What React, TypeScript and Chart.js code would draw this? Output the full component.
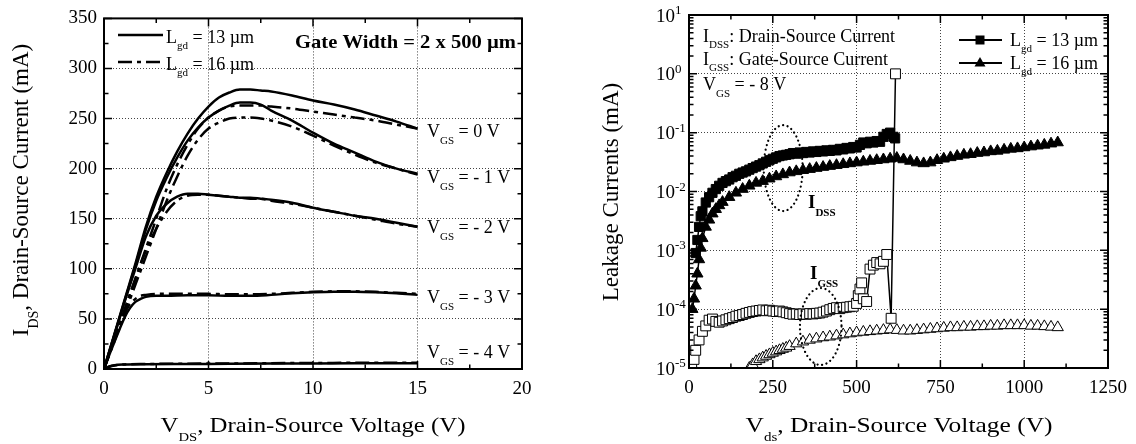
import { useEffect, useRef } from 'react';
import { Chart, registerables } from 'chart.js';

Chart.register(...registerables);

const SERIF = '"Liberation Serif", "Times New Roman", Times, serif';

// ---------------- Left panel: output characteristics ----------------
const vdsA = [0, 0.5, 1, 1.5, 2, 2.5, 3, 3.5, 4, 4.5, 5, 5.5, 6, 6.5, 7, 7.5, 8, 9, 10, 11, 12, 13, 14, 15];
const idsVg0L13 = [0, 35, 70, 105, 142, 172, 196, 217, 235, 250, 262, 271, 276, 279, 279, 278, 277, 273, 268, 264, 259, 253, 247, 240];
const idsVg0L16 = [0, 30, 60, 90, 120, 150, 180, 204, 224, 240, 251, 258, 262, 263, 263, 263, 262, 260, 257, 254, 251, 248, 244, 240];
const idsVg1L13 = [0, 34, 69, 103, 139, 168, 191, 211, 228, 241, 251, 258, 263, 266, 266, 264, 258, 248, 236, 225, 216, 207, 200, 195];
const idsVg1L16 = [0, 28, 56, 84, 112, 140, 168, 192, 213, 229, 240, 246, 250, 251, 251, 250, 248, 242, 233, 223, 214, 206, 200, 194];
const idsVg2L13 = [0, 34, 68, 100, 132, 153, 165, 172, 175, 175, 174, 173, 172, 171, 171, 170, 169, 166, 161, 157, 153, 150, 146, 142];
const idsVg2L16 = [0, 30, 60, 90, 118, 140, 157, 168, 173, 174, 174, 173, 172, 171, 170, 170, 168, 165, 161, 157, 153, 149, 145, 142];

const vdsB = [0, 0.25, 0.5, 0.75, 1, 1.25, 1.5, 1.75, 2, 2.5, 3, 4, 5, 6, 7, 8, 9, 10, 11, 12, 13, 14, 15];
const idsVg3L13 = [0, 14, 27, 40, 52, 61, 67, 70, 72, 73, 73, 73.5, 73.5, 73, 73, 74, 75.5, 76.5, 77, 77, 76.5, 75.5, 74];
const idsVg3L16 = [0, 15, 29, 43, 56, 65, 70, 73, 74, 75, 75, 75, 75, 74.5, 74.5, 75, 76, 77, 77.5, 77.5, 77, 76, 75];

const vdsC = [0, 0.25, 0.5, 1, 2, 4, 6, 8, 10, 12, 15];
const idsVg4L13 = [0, 2.5, 3.8, 4.5, 4.8, 5, 5.2, 5.4, 5.6, 5.7, 5.8];
const idsVg4L16 = [0, 2.3, 3.6, 4.6, 5, 5.3, 5.5, 5.8, 6, 6.2, 6.3];

const vgsLabels = ['0 V', '- 1 V', '- 2 V', '- 3 V', '- 4 V'];

// ---------------- Right panel: off-state leakage ----------------
const vIdss13 = [20, 25, 30, 35, 40, 50, 60, 70, 80, 90, 100, 110, 120, 130, 140, 150, 160, 170, 180, 190, 200,
  210, 220, 230, 240, 250, 260, 270, 280, 290, 300, 310, 320, 330, 340, 350, 360, 370, 380, 390, 400,
  410, 420, 430, 440, 450, 460, 470, 480, 490, 500, 510, 520, 530, 540, 550, 560, 570, 580, 590, 600, 610, 615];
const iIdss13 = [9e-4, 1.5e-3, 2.5e-3, 3.8e-3, 4.6e-3, 6.5e-3, 8e-3, 9.5e-3, 1.1e-2, 1.25e-2, 1.4e-2, 1.5e-2, 1.6e-2, 1.75e-2, 1.85e-2, 2e-2, 2.1e-2, 2.2e-2, 2.35e-2, 2.5e-2, 2.65e-2,
  2.8e-2, 3e-2, 3.2e-2, 3.4e-2, 3.6e-2, 3.8e-2, 4e-2, 4.1e-2, 4.2e-2, 4.3e-2, 4.5e-2, 4.4e-2, 4.6e-2, 4.5e-2, 4.7e-2, 4.6e-2, 4.8e-2, 4.7e-2, 4.9e-2, 4.8e-2,
  5e-2, 4.9e-2, 5.1e-2, 5e-2, 5.3e-2, 5.2e-2, 5.5e-2, 5.4e-2, 5.7e-2, 5.6e-2, 6.2e-2, 6.8e-2, 6.6e-2, 7e-2, 6.8e-2, 7.2e-2, 7e-2, 8.5e-2, 9.5e-2, 1e-1, 8.5e-2, 8e-2];

const vIdss16 = [10, 15, 20, 25, 30, 35, 40, 50, 60, 70, 80, 90, 100, 120, 140, 160, 180, 200, 220, 240, 260, 280, 300,
  320, 340, 360, 380, 400, 420, 440, 460, 480, 500, 520, 540, 560, 580, 600, 620, 640, 660, 680, 700,
  720, 740, 760, 780, 800, 820, 840, 860, 880, 900, 920, 940, 960, 980, 1000, 1020, 1040, 1060, 1080, 1100];
const iIdss16 = [1e-4, 1.5e-4, 2.5e-4, 4e-4, 7e-4, 1.1e-3, 1.6e-3, 2.5e-3, 3.3e-3, 4.2e-3, 5e-3, 5.8e-3, 6.6e-3, 8e-3, 9.5e-3, 1.1e-2, 1.25e-2, 1.4e-2, 1.5e-2, 1.65e-2, 1.8e-2, 1.95e-2, 2.1e-2,
  2.2e-2, 2.3e-2, 2.4e-2, 2.5e-2, 2.6e-2, 2.7e-2, 2.8e-2, 2.9e-2, 3e-2, 3.1e-2, 3.2e-2, 3.3e-2, 3.4e-2, 3.5e-2, 3.6e-2, 3.7e-2, 3.5e-2, 3.3e-2, 3.1e-2, 3e-2,
  3.1e-2, 3.4e-2, 3.6e-2, 3.8e-2, 4e-2, 4.2e-2, 4.3e-2, 4.5e-2, 4.6e-2, 4.8e-2, 4.9e-2, 5.1e-2, 5.3e-2, 5.4e-2, 5.6e-2, 5.8e-2, 6e-2, 6.2e-2, 6.5e-2, 6.8e-2];

const vIgss13 = [8, 15, 20, 30, 40, 50, 60, 70, 80, 90, 100, 110, 120, 130, 140, 150, 160, 170, 180, 190, 200,
  210, 220, 230, 240, 250, 260, 270, 280, 290, 300, 310, 320, 330, 340, 350, 360, 370, 380, 390, 400,
  410, 420, 430, 440, 450, 460, 470, 480, 490, 500, 505, 510, 515, 520, 530, 540, 550, 560, 570, 580, 590, 603, 616];
const iIgss13 = [1.05e-5, 1.4e-5, 2e-5, 3e-5, 4.2e-5, 5.2e-5, 6.5e-5, 6.8e-5, 6.2e-5, 6e-5, 6.3e-5, 6.6e-5, 6.9e-5, 7.2e-5, 7.6e-5, 7.8e-5, 8.1e-5, 8.5e-5, 8.8e-5, 9.1e-5, 9.3e-5,
  9.5e-5, 9.7e-5, 9.4e-5, 9.6e-5, 9.3e-5, 9.1e-5, 9.3e-5, 9e-5, 8.7e-5, 8.4e-5, 8.2e-5, 8.3e-5, 8.1e-5, 8.3e-5, 8.2e-5, 8.4e-5, 8.3e-5, 8.5e-5, 8.6e-5, 8.9e-5,
  9.3e-5, 9.8e-5, 1.03e-4, 1.06e-4, 1.02e-4, 1.06e-4, 1.08e-4, 1.1e-4, 1.12e-4, 1.25e-4, 1.7e-4, 2.2e-4, 2.8e-4, 1.5e-4, 1.35e-4, 4.8e-4, 5.6e-4, 6.2e-4, 5.9e-4, 6.5e-4, 8.5e-4, 7e-5, 1];

const vIgss16 = [180, 190, 200, 210, 220, 230, 240, 250, 260, 270, 280, 290, 300,
  320, 340, 360, 380, 400, 420, 440, 460, 480, 500, 520, 540, 560, 580, 600, 620, 640, 660, 680, 700,
  720, 740, 760, 780, 800, 820, 840, 860, 880, 900, 920, 940, 960, 980, 1000, 1020, 1040, 1060, 1080, 1100];
const iIgss16 = [1e-5, 1.15e-5, 1.3e-5, 1.4e-5, 1.5e-5, 1.6e-5, 1.7e-5, 1.8e-5, 1.9e-5, 2e-5, 2.1e-5, 2.2e-5, 2.35e-5,
  2.6e-5, 2.8e-5, 3e-5, 3.15e-5, 3.3e-5, 3.4e-5, 3.55e-5, 3.7e-5, 3.85e-5, 4e-5, 4.1e-5, 4.2e-5, 4.3e-5, 4.4e-5, 4.5e-5, 4.4e-5, 4.3e-5, 4.3e-5, 4.4e-5, 4.5e-5,
  4.6e-5, 4.7e-5, 4.8e-5, 4.9e-5, 4.9e-5, 5e-5, 5e-5, 5.1e-5, 5.1e-5, 5.2e-5, 5.2e-5, 5.3e-5, 5.3e-5, 5.3e-5, 5.3e-5, 5.2e-5, 5.2e-5, 5.1e-5, 5e-5, 4.9e-5];

const logTicks = [1e-5, 1e-4, 1e-3, 1e-2, 1e-1, 1, 10];
const logTickExp = ['-5', '-4', '-3', '-2', '-1', '0', '1'];

// ---------------- helpers ----------------
type Part = { t: string; sub?: boolean; sup?: boolean };

function drawRich(ctx: CanvasRenderingContext2D, parts: Part[], x: number, y: number, size: number, o: any = {}) {
  const bold = o.bold ? 'bold ' : '';
  const subScale = o.subScale ?? 0.6;
  const fontFor = (p: Part) => `${bold}${p.sub || p.sup ? Math.round(size * subScale) : size}px ${SERIF}`;
  const ws = parts.map((p) => { ctx.font = fontFor(p); return ctx.measureText(p.t).width; });
  const total = ws.reduce((s, w) => s + w, 0);
  const sx = o.width ? o.width / total : (o.sx ?? 1);
  ctx.save();
  ctx.translate(x, y);
  if (o.rotate) ctx.rotate(-Math.PI / 2);
  ctx.scale(sx, 1);
  let cx = o.align === 'center' ? -total / 2 : o.align === 'right' ? -total : 0;
  ctx.fillStyle = '#000';
  ctx.textAlign = 'left';
  ctx.textBaseline = 'alphabetic';
  parts.forEach((p, i) => {
    ctx.font = fontFor(p);
    const dy = p.sub ? size * (o.subOff ?? 0.35) : p.sup ? -size * 0.45 : 0;
    ctx.fillText(p.t, cx, dy);
    cx += ws[i];
  });
  ctx.restore();
}

function drawFrame(chart: any, xMinor: number[], yMinor: number[]) {
  const { ctx, chartArea: a } = chart;
  const xs = chart.scales.x;
  const ys = chart.scales.y;
  const MAJ = 8;
  const MIN = 4.5;
  ctx.save();
  ctx.setLineDash([]);
  ctx.strokeStyle = '#000';
  ctx.lineWidth = 1.5;
  ctx.beginPath();
  const vt = (p: number, len: number) => {
    ctx.moveTo(p, a.bottom); ctx.lineTo(p, a.bottom - len);
    ctx.moveTo(p, a.top); ctx.lineTo(p, a.top + len);
  };
  const ht = (p: number, len: number) => {
    ctx.moveTo(a.left, p); ctx.lineTo(a.left + len, p);
    ctx.moveTo(a.right, p); ctx.lineTo(a.right - len, p);
  };
  xs.ticks.forEach((t: any) => vt(xs.getPixelForValue(t.value), MAJ));
  xMinor.forEach((v) => vt(xs.getPixelForValue(v), MIN));
  ys.ticks.forEach((t: any) => ht(ys.getPixelForValue(t.value), MAJ));
  yMinor.forEach((v) => ht(ys.getPixelForValue(v), MIN));
  ctx.stroke();
  ctx.lineWidth = 2;
  ctx.strokeRect(a.left, a.top, a.right - a.left, a.bottom - a.top);
  ctx.restore();
}

const pts = (xs: number[], ys: number[]) => xs.map((x, i) => ({ x, y: ys[i] }));
const DASHDOT = [14, 5, 4, 5];
const plainNum = (v: any) => String(v);

// ---------------- left chart config ----------------
function leftConfig(): any {
  const curves: [number[], number[], boolean][] = [
    [vdsA, idsVg0L13, false], [vdsA, idsVg0L16, true],
    [vdsA, idsVg1L13, false], [vdsA, idsVg1L16, true],
    [vdsA, idsVg2L13, false], [vdsA, idsVg2L16, true],
    [vdsB, idsVg3L13, false], [vdsB, idsVg3L16, true],
    [vdsC, idsVg4L13, false], [vdsC, idsVg4L16, true],
  ];
  const labelBase = [137, 183, 233, 303, 358];
  const decor = {
    id: 'leftDecor',
    afterDraw(chart: any) {
      const ctx = chart.ctx as CanvasRenderingContext2D;
      drawFrame(chart, [2.5, 7.5, 12.5, 17.5], [25, 75, 125, 175, 225, 275, 325]);
      // legend
      ctx.save();
      ctx.strokeStyle = '#000';
      ctx.lineWidth = 2.5;
      ctx.setLineDash([]);
      ctx.beginPath(); ctx.moveTo(118, 35); ctx.lineTo(163, 35); ctx.stroke();
      ctx.setLineDash(DASHDOT);
      ctx.beginPath(); ctx.moveTo(118, 62); ctx.lineTo(163, 62); ctx.stroke();
      ctx.restore();
      drawRich(ctx, [{ t: 'L' }, { t: 'gd', sub: true }, { t: ' = 13 µm' }], 166, 43, 18);
      drawRich(ctx, [{ t: 'L' }, { t: 'gd', sub: true }, { t: ' = 16 µm' }], 166, 70, 18);
      drawRich(ctx, [{ t: 'Gate Width = 2 x 500 µm' }], 295, 48, 19, { bold: true, width: 221 });
      vgsLabels.forEach((lab, i) => {
        drawRich(ctx, [{ t: 'V' }, { t: 'GS', sub: true }, { t: ' = ' + lab }], 427, labelBase[i], 18, { subOff: 0.38 });
      });
      // axis titles
      drawRich(ctx, [{ t: 'V' }, { t: 'DS', sub: true }, { t: ', Drain-Source Voltage (V)' }], 313, 432, 22,
        { align: 'center', width: 305, subOff: 0.42 });
      drawRich(ctx, [{ t: 'I' }, { t: 'DS', sub: true }, { t: ', Drain-Source Current (mA)' }], 28, 190, 23,
        { align: 'center', rotate: true, subOff: 0.42 });
    },
  };
  return {
    type: 'line',
    data: {
      datasets: curves.map(([xs, ys, dd]) => ({
        data: pts(xs, ys),
        borderColor: '#000',
        borderWidth: 2.5,
        borderDash: dd ? DASHDOT : [],
        pointRadius: 0,
        fill: false,
        cubicInterpolationMode: 'monotone',
      })),
    },
    options: {
      responsive: false,
      animation: false,
      devicePixelRatio: 1,
      events: [],
      layout: { padding: { left: 0, right: 46, top: 17, bottom: 0 } },
      plugins: { legend: { display: false }, tooltip: { enabled: false } },
      scales: {
        x: {
          type: 'linear', min: 0, max: 20,
          ticks: { stepSize: 5, padding: 9, color: '#000', font: { family: SERIF, size: 19 }, maxRotation: 0, callback: plainNum },
          grid: { color: '#444', lineWidth: 1, drawTicks: false },
          border: { display: false, dash: [1, 2] },
          afterFit: (s: any) => { s.height = 75; },
        },
        y: {
          type: 'linear', min: 0, max: 350,
          ticks: { stepSize: 50, padding: 7, color: '#000', font: { family: SERIF, size: 19 }, callback: plainNum },
          grid: { color: '#444', lineWidth: 1, drawTicks: false },
          border: { display: false, dash: [1, 2] },
          afterFit: (s: any) => { s.width = 104; },
        },
      },
    },
    plugins: [decor],
  };
}

// ---------------- right chart config ----------------
function rightConfig(): any {
  const logMinor: number[] = [];
  for (let e = -5; e <= 0; e++) for (let k = 2; k <= 9; k++) logMinor.push(k * Math.pow(10, e));
  const OX = 568;
  const decor = {
    id: 'rightDecor',
    afterDraw(chart: any) {
      const ctx = chart.ctx as CanvasRenderingContext2D;
      const a = chart.chartArea;
      const xs = chart.scales.x;
      const ys = chart.scales.y;
      // dotted ellipses
      ctx.save();
      ctx.strokeStyle = '#000';
      ctx.lineWidth = 2.2;
      ctx.lineCap = 'round';
      ctx.setLineDash([0.1, 4.5]);
      const ell = (v: number, i: number, dv: number, dec: number) => {
        const cx = xs.getPixelForValue(v);
        const cy = ys.getPixelForValue(i);
        const rx = Math.abs(xs.getPixelForValue(v + dv) - cx);
        const ry = Math.abs(ys.getPixelForValue(i * Math.pow(10, dec)) - cy);
        ctx.beginPath();
        ctx.ellipse(cx, cy, rx, ry, 0, 0, Math.PI * 2);
        ctx.stroke();
      };
      ell(281, 0.025, 58, 0.73);
      ell(393, 5.07e-5, 62, 0.654);
      ctx.restore();

      drawFrame(chart, [125, 375, 625, 875, 1125], logMinor);

      // y tick labels 10^n
      logTicks.forEach((v, i) => {
        const py = ys.getPixelForValue(v);
        drawRich(ctx, [{ t: '10' }], a.left - 14, py + 6.5, 19, { align: 'right' });
        drawRich(ctx, [{ t: logTickExp[i] }], a.left - 14, py - 1, 13);
      });

      // info text
      drawRich(ctx, [{ t: 'I' }, { t: 'DSS', sub: true }, { t: ': Drain-Source Current' }], 703 - OX, 42, 18);
      drawRich(ctx, [{ t: 'I' }, { t: 'GSS', sub: true }, { t: ': Gate-Source Current' }], 703 - OX, 65, 18);
      drawRich(ctx, [{ t: 'V' }, { t: 'GS', sub: true }, { t: ' = - 8 V' }], 703 - OX, 90, 18, { subOff: 0.38 });
      drawRich(ctx, [{ t: 'I' }, { t: 'DSS', sub: true }], 808 - OX, 208, 19, { bold: true, subOff: 0.4 });
      drawRich(ctx, [{ t: 'I' }, { t: 'GSS', sub: true }], 810 - OX, 279, 19, { bold: true, subOff: 0.4 });

      // legend
      ctx.save();
      ctx.strokeStyle = '#000';
      ctx.fillStyle = '#000';
      ctx.lineWidth = 1.8;
      ctx.setLineDash([]);
      ctx.beginPath();
      ctx.moveTo(959 - OX, 40); ctx.lineTo(1002 - OX, 40);
      ctx.moveTo(959 - OX, 63); ctx.lineTo(1002 - OX, 63);
      ctx.stroke();
      ctx.fillRect(980 - OX - 4.5, 40 - 4.5, 9, 9);
      ctx.beginPath();
      ctx.moveTo(980 - OX, 63 - 6);
      ctx.lineTo(980 - OX + 5.5, 63 + 3.5);
      ctx.lineTo(980 - OX - 5.5, 63 + 3.5);
      ctx.closePath();
      ctx.fill();
      ctx.restore();
      drawRich(ctx, [{ t: 'L' }, { t: 'gd', sub: true }, { t: ' = 13 µm' }], 1010 - OX, 46, 18);
      drawRich(ctx, [{ t: 'L' }, { t: 'gd', sub: true }, { t: ' = 16 µm' }], 1010 - OX, 69, 18);

      // axis titles
      drawRich(ctx, [{ t: 'V' }, { t: 'ds', sub: true }, { t: ', Drain-Source Voltage (V)' }], 899 - OX, 432, 22,
        { align: 'center', width: 307, subOff: 0.42 });
      drawRich(ctx, [{ t: 'Leakage Currents (mA)' }], 618 - OX, 192, 23, { align: 'center', rotate: true });
    },
  };
  const common = { showLine: true, borderColor: '#000', borderWidth: 1.5, pointBorderColor: '#000', pointBorderWidth: 1 };
  return {
    type: 'line',
    data: {
      datasets: [
        { ...common, data: pts(vIdss13, iIdss13), pointStyle: 'rect', pointRadius: 6.5, pointBackgroundColor: '#000' },
        { ...common, data: pts(vIdss16, iIdss16), pointStyle: 'triangle', pointRadius: 6.5, pointBackgroundColor: '#000' },
        { ...common, data: pts(vIgss13, iIgss13), pointStyle: 'rect', pointRadius: 7, pointBackgroundColor: '#fff' },
        { ...common, data: pts(vIgss16, iIgss16), pointStyle: 'triangle', pointRadius: 6.5, pointBackgroundColor: '#fff' },
      ],
    },
    options: {
      responsive: false,
      animation: false,
      devicePixelRatio: 1,
      events: [],
      layout: { padding: { left: 0, right: 27, top: 15, bottom: 0 } },
      plugins: { legend: { display: false }, tooltip: { enabled: false } },
      scales: {
        x: {
          type: 'linear', min: 0, max: 1250,
          ticks: { stepSize: 250, padding: 9, color: '#000', font: { family: SERIF, size: 19 }, maxRotation: 0, callback: plainNum },
          grid: { color: '#444', lineWidth: 1, drawTicks: false },
          border: { display: false, dash: [1, 2] },
          afterFit: (s: any) => { s.height = 76; },
        },
        y: {
          type: 'logarithmic', min: 1e-5, max: 10,
          ticks: { display: false },
          grid: { color: '#444', lineWidth: 1, drawTicks: false },
          border: { display: false, dash: [1, 2] },
          afterBuildTicks: (s: any) => { s.ticks = logTicks.map((v) => ({ value: v, major: true })); },
          afterFit: (s: any) => { s.width = 121; },
        },
      },
    },
    plugins: [decor],
  };
}

function Panel({ make, left }: { make: () => any; left: number }) {
  const ref = useRef<HTMLCanvasElement | null>(null);
  useEffect(() => {
    if (!ref.current) return;
    const chart = new Chart(ref.current, make());
    return () => chart.destroy();
  }, []);
  return (
    <canvas
      ref={ref}
      width={568}
      height={444}
      style={{ position: 'absolute', left, top: 0, width: 568, height: 444, display: 'block' }}
    />
  );
}

export default function App() {
  return (
    <div style={{ position: 'fixed', left: 0, top: 0, width: 1136, height: 444, background: '#fff', overflow: 'hidden' }}>
      <Panel make={leftConfig} left={0} />
      <Panel make={rightConfig} left={568} />
    </div>
  );
}
